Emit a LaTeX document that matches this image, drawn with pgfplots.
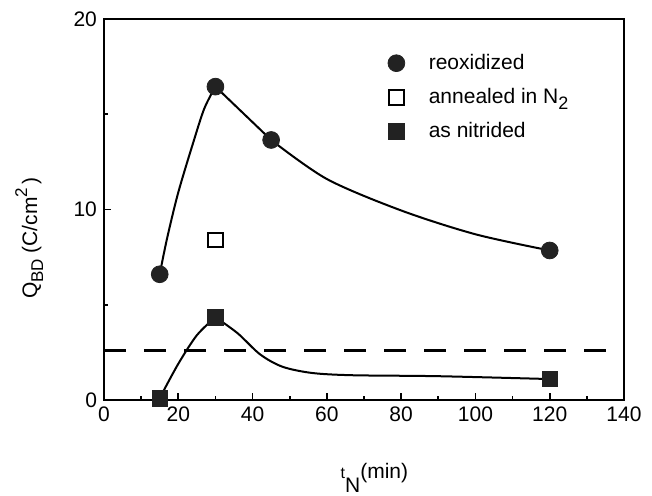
\documentclass[border=0pt]{standalone}
\usepackage{fontspec}
\setmainfont{Liberation Sans}
\usepackage{pgfplots}
\pgfplotsset{compat=1.18}
\definecolor{mk}{HTML}{222222}
\begin{document}
\begin{tikzpicture}
\begin{axis}[name=ax, scale only axis, width=260pt, height=190.5pt,
  xmin=0, xmax=140, ymin=0, ymax=20,
  xtick={0,20,...,140}, ytick={0,10,20},
  minor x tick num=1, minor y tick num=1,
  tick align=inside, xtick pos=bottom, ytick pos=left,
  major tick length=3.5pt, minor tick length=2pt,
  axis line style={line width=1.2pt},
  every tick/.style={line width=0.9pt, black},
  tick label style={font=\fontsize{10.5}{12}\selectfont},
  /pgf/number format/assume math mode=true,
  xlabel={\fontsize{10.5}{12}\selectfont\raisebox{4pt}{\fontsize{8}{9}\selectfont t}\raisebox{-3pt}{N}\raisebox{4pt}{(min)}},
  ylabel={\fontsize{10.5}{12}\selectfont Q\raisebox{-3pt}{\fontsize{8.5}{9}\selectfont BD} (C/cm\raisebox{5pt}{\fontsize{8.5}{9}\selectfont 2}\,)},
  xlabel style={at={(axis description cs:0.52,-0.205)}, anchor=center},
  ylabel style={at={(axis description cs:-0.144,0.425)}, anchor=center},
  legend style={draw=none, fill=none, at={(axis description cs:0.53,0.93)}, anchor=north west,
    font=\fontsize{10.5}{12}\selectfont, row sep=4pt, cells={anchor=west}},
  legend image code/.code={\draw[#1] plot coordinates {(5pt,0pt)}; \path (0pt,0pt) (19pt,0pt);},
]
% dashed reference line
\addplot[forget plot, black, line width=1.1pt, dash pattern=on 11pt off 9pt] coordinates {(0,2.6) (140,2.6)};
% reoxidized curve
\addplot[forget plot, black, line width=1pt, smooth, tension=0.5] coordinates {
 (15,6.6) (17,8.5) (20,10.9) (24,13.5) (27,15.3) (30,16.45)};
\addplot[forget plot, black, line width=1pt] coordinates {(30,16.45) (45,13.65)};
\addplot[forget plot, black, line width=1pt, smooth, tension=0.5] coordinates {
 (45,13.65) (60,11.6) (80,9.95) (100,8.7) (120,7.85)};
% as nitrided curve
\addplot[forget plot, black, line width=1pt, smooth, tension=0.5] coordinates {
 (15,0.1) (20,1.9) (25,3.4) (30,4.35)};
\addplot[forget plot, black, line width=1pt, smooth, tension=0.5] coordinates {
 (30,4.35) (36,3.5) (42,2.4) (48,1.75) (56,1.42) (67,1.3) (90,1.25) (120,1.1)};
% markers
\addplot[only marks, mark=*, mark size=4.2pt, mk, mark options={fill=mk, draw=mk}] coordinates {
 (15,6.6) (30,16.45) (45,13.65) (120,7.85)};
\addlegendentry{reoxidized}
\addplot[only marks, mark=square, mark size=3.6pt, black, mark options={line width=0.9pt}] coordinates {
 (30,8.4)};
\addlegendentry{annealed in N\raisebox{-3pt}{\fontsize{9}{10}\selectfont 2}}
\addplot[only marks, mark=square*, mark size=3.9pt, mk, mark options={fill=mk, draw=mk}] coordinates {
 (15,0.1) (30,4.35) (120,1.1)};
\addlegendentry{as nitrided}
\end{axis}
\pgfresetboundingbox
\path ([xshift=-52pt,yshift=-47.5pt]ax.south west) rectangle ([xshift=14pt,yshift=9.5pt]ax.north east);
\end{tikzpicture}
\end{document}
